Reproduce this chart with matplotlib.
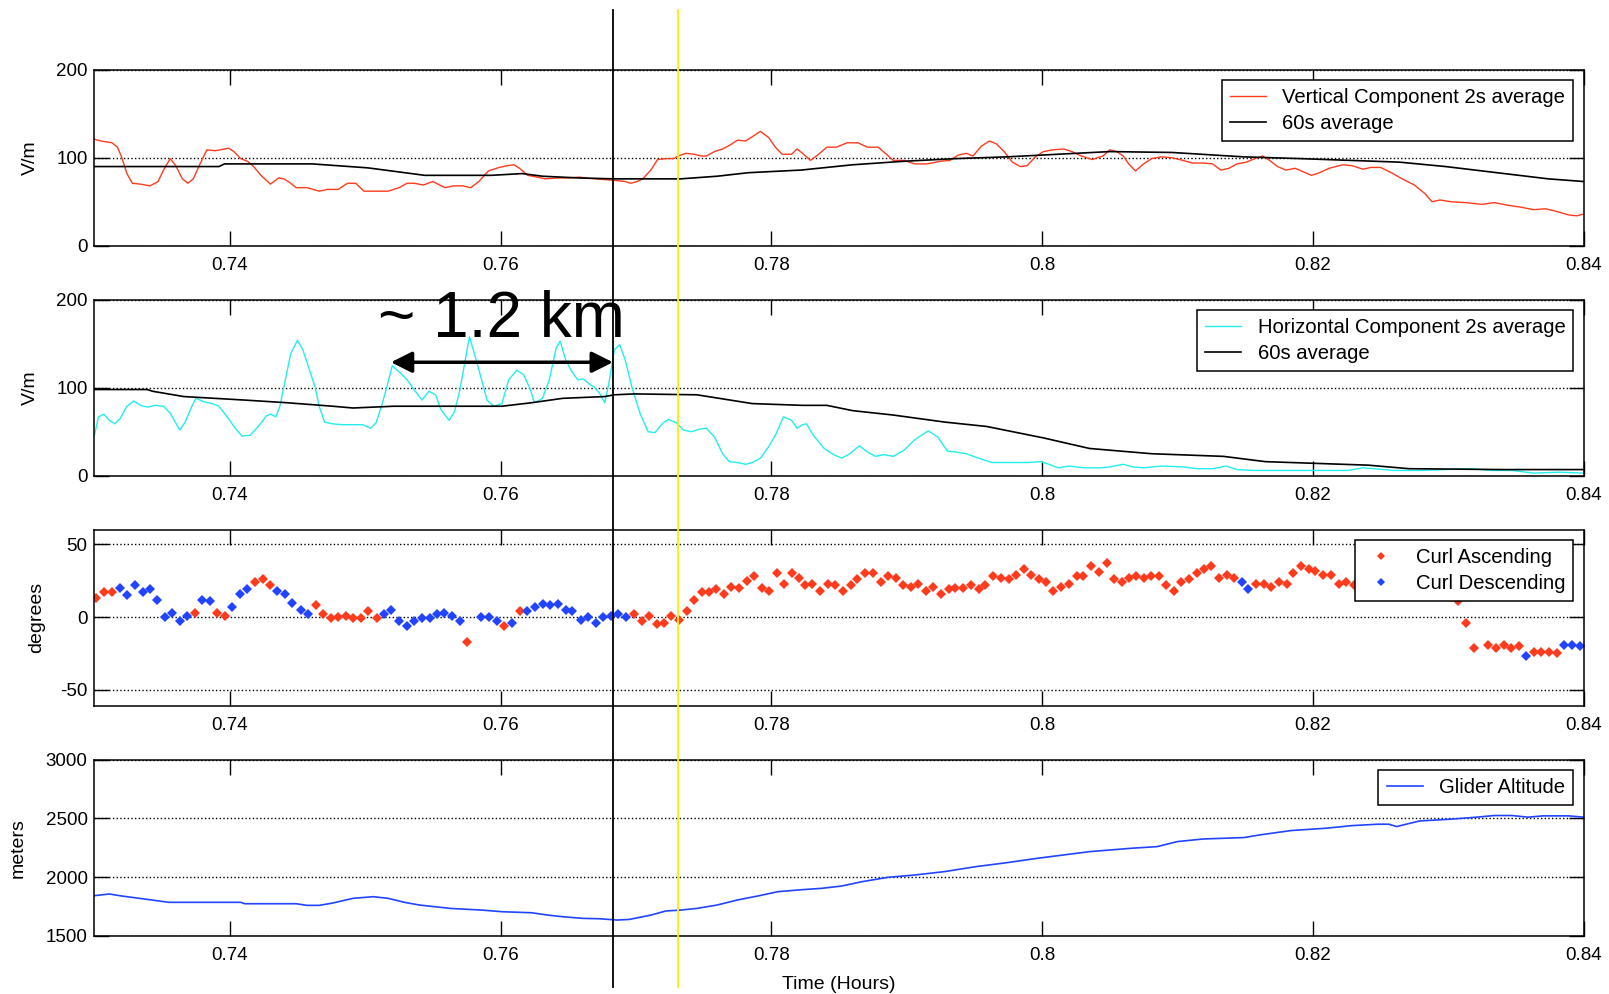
import matplotlib
matplotlib.use('Agg')
import matplotlib.pyplot as plt
from matplotlib.lines import Line2D
from matplotlib.transforms import blended_transform_factory

plt.rcParams['font.family'] = ['Liberation Sans', 'DejaVu Sans']

x_ticks = [0.74, 0.76, 0.78, 0.80, 0.82, 0.84]
x_tick_labels = ['0.74', '0.76', '0.78', '0.8', '0.82', '0.84']

# ---- panel 1: vertical component
vert_t = [0.7300, 0.7305, 0.7313, 0.7317, 0.7320, 0.7324, 0.7328, 0.7334, 0.7341, 0.7347,
          0.7351, 0.7356, 0.7360, 0.7365, 0.7369, 0.7373, 0.7378, 0.7383, 0.7389, 0.7393,
          0.7399, 0.7403, 0.7408, 0.7413, 0.7417, 0.7423, 0.7430, 0.7436, 0.7440, 0.7445,
          0.7449, 0.7457, 0.7466, 0.7472, 0.7480, 0.7487, 0.7493, 0.7499, 0.7510, 0.7517,
          0.7525, 0.7531, 0.7536, 0.7543, 0.7550, 0.7555, 0.7559, 0.7565, 0.7572, 0.7578,
          0.7584, 0.7591, 0.7599, 0.7605, 0.7610, 0.7614, 0.7620, 0.7627, 0.7633, 0.7642,
          0.7650, 0.7658, 0.7663, 0.7671, 0.7678, 0.7686, 0.7692, 0.7696, 0.7701, 0.7705,
          0.7711, 0.7716, 0.7722, 0.7728, 0.7731, 0.7737, 0.7743, 0.7748, 0.7752, 0.7758,
          0.7764, 0.7769, 0.7775, 0.7781, 0.7786, 0.7792, 0.7798, 0.7803, 0.7808, 0.7815,
          0.7819, 0.7823, 0.7826, 0.7829, 0.7835, 0.7841, 0.7848, 0.7856, 0.7864, 0.7871,
          0.7879, 0.7885, 0.7890, 0.7898, 0.7906, 0.7915, 0.7925, 0.7932, 0.7938, 0.7944,
          0.7949, 0.7955, 0.7961, 0.7966, 0.7972, 0.7978, 0.7984, 0.7989, 0.7995, 0.8001,
          0.8008, 0.8016, 0.8022, 0.8029, 0.8037, 0.8045, 0.8050, 0.8055, 0.8060, 0.8064,
          0.8069, 0.8075, 0.8081, 0.8088, 0.8096, 0.8104, 0.8111, 0.8119, 0.8126, 0.8132,
          0.8138, 0.8144, 0.8151, 0.8157, 0.8163, 0.8168, 0.8174, 0.8180, 0.8187, 0.8193,
          0.8199, 0.8205, 0.8212, 0.8222, 0.8229, 0.8237, 0.8243, 0.8250, 0.8258, 0.8266,
          0.8275, 0.8283, 0.8288, 0.8294, 0.8302, 0.8313, 0.8325, 0.8334, 0.8344, 0.8353,
          0.8363, 0.8372, 0.8380, 0.8389, 0.8395, 0.8400]
vert_v = [121, 119, 117, 112, 101, 82, 71, 70, 68, 73,
          86, 99, 91, 76, 71, 76, 93, 109, 108, 109,
          111, 107, 99, 96, 91, 80, 70, 77, 76, 71,
          66, 66, 62, 64, 64, 71, 71, 62, 62, 62,
          66, 71, 71, 69, 73, 69, 66, 68, 68, 66,
          73, 85, 89, 91, 92, 88, 80, 78, 76, 77,
          77, 78, 77, 76, 75, 74, 73, 71, 73, 76,
          86, 98, 99, 99, 102, 105, 104, 102, 102, 107,
          110, 114, 120, 119, 124, 130, 123, 112, 104, 104,
          110, 105, 101, 97, 104, 112, 112, 117, 117, 112,
          112, 104, 97, 97, 93, 93, 96, 97, 103, 105,
          102, 113, 119, 116, 107, 95, 90, 91, 101, 107,
          109, 110, 107, 102, 98, 102, 109, 107, 102, 93,
          85, 93, 99, 101, 100, 97, 94, 94, 93, 86,
          88, 93, 95, 99, 102, 97, 90, 86, 88, 84,
          80, 83, 88, 92, 91, 87, 89, 89, 83, 76,
          69, 59, 50, 52, 50, 49, 47, 49, 46, 44,
          41, 42, 39, 35, 34, 36]
vert_avg_t = [0.7300, 0.7392, 0.7396, 0.7461, 0.7502, 0.7544, 0.7593, 0.7616, 0.7631, 0.7658,
              0.7684, 0.7733, 0.7760, 0.7783, 0.7822, 0.7860, 0.7898, 0.7936, 0.7974, 0.8012,
              0.8050, 0.8096, 0.8149, 0.8191, 0.8264, 0.8298, 0.8336, 0.8374, 0.8400]
vert_avg_v = [90, 90, 93, 93, 88.5, 80, 80, 82, 79, 77,
              76, 76, 79, 83, 86, 92, 96, 99, 101, 104,
              107, 106, 101, 99, 95, 90, 83, 76, 73]

# ---- panel 2: horizontal component
horiz_t = [0.7300, 0.7303, 0.7307, 0.7311, 0.7315, 0.7319, 0.7324, 0.7329, 0.7334, 0.7339,
           0.7345, 0.7351, 0.7356, 0.7360, 0.7363, 0.7367, 0.7372, 0.7375, 0.7381, 0.7387,
           0.7392, 0.7398, 0.7404, 0.7409, 0.7415, 0.7421, 0.7427, 0.7430, 0.7434, 0.7437,
           0.7441, 0.7445, 0.7450, 0.7454, 0.7458, 0.7463, 0.7466, 0.7470, 0.7476, 0.7483,
           0.7491, 0.7498, 0.7504, 0.7508, 0.7512, 0.7516, 0.7520, 0.7525, 0.7531, 0.7536,
           0.7542, 0.7547, 0.7552, 0.7556, 0.7562, 0.7566, 0.7570, 0.7574, 0.7577, 0.7581,
           0.7586, 0.7590, 0.7595, 0.7601, 0.7606, 0.7612, 0.7617, 0.7622, 0.7625, 0.7631,
           0.7636, 0.7641, 0.7644, 0.7648, 0.7652, 0.7657, 0.7661, 0.7665, 0.7669, 0.7673,
           0.7677, 0.7680, 0.7684, 0.7688, 0.7692, 0.7697, 0.7703, 0.7709, 0.7714, 0.7720,
           0.7724, 0.7730, 0.7735, 0.7741, 0.7747, 0.7752, 0.7758, 0.7764, 0.7769, 0.7775,
           0.7781, 0.7786, 0.7792, 0.7798, 0.7803, 0.7809, 0.7815, 0.7819, 0.7823, 0.7826,
           0.7831, 0.7839, 0.7846, 0.7852, 0.7858, 0.7865, 0.7871, 0.7877, 0.7883, 0.7890,
           0.7898, 0.7906, 0.7911, 0.7916, 0.7923, 0.7930, 0.7936, 0.7944, 0.7953, 0.7963,
           0.7974, 0.7989, 0.7999, 0.8005, 0.8012, 0.8020, 0.8031, 0.8043, 0.8050, 0.8060,
           0.8067, 0.8075, 0.8088, 0.8104, 0.8115, 0.8126, 0.8136, 0.8144, 0.8157, 0.8184,
           0.8210, 0.8226, 0.8237, 0.8245, 0.8260, 0.8279, 0.8298, 0.8317, 0.8332, 0.8347,
           0.8363, 0.8382, 0.8400]
horiz_v = [46, 67, 70, 63, 59, 65, 79, 85, 80, 78,
           80, 79, 71, 60, 52, 61, 79, 88, 84, 82,
           79, 67, 54, 45, 46, 56, 68, 70, 67, 79,
           109, 139, 154, 143, 124, 101, 79, 61, 59, 58,
           58, 58, 54, 60, 79, 101, 125, 118, 109, 98,
           86, 96, 92, 75, 63, 73, 98, 132, 158, 137,
           109, 86, 79, 82, 109, 120, 115, 98, 83, 88,
           109, 145, 153, 132, 120, 109, 110, 105, 101, 94,
           83, 105, 143, 149, 132, 101, 71, 50, 49, 60,
           64, 60, 52, 50, 53, 54, 44, 25, 16, 15,
           13, 15, 20, 33, 46, 67, 63, 54, 58, 59,
           46, 31, 24, 20, 25, 34, 27, 22, 24, 22,
           29, 41, 46, 51, 44, 28, 27, 25, 20, 15,
           15, 15, 16, 13, 9, 11, 9, 9, 10, 13,
           10, 9, 11, 10, 8, 8, 11, 7, 6, 6,
           6, 6, 9, 8, 6, 6, 7, 8, 6, 6,
           3, 4, 3]
horiz_avg_t = [0.7300, 0.7339, 0.7343, 0.7366, 0.7411, 0.7442, 0.7476, 0.7491, 0.7521, 0.7563,
               0.7601, 0.7623, 0.7646, 0.7677, 0.7684, 0.7699, 0.7745, 0.7786, 0.7823, 0.7841,
               0.7860, 0.7890, 0.7928, 0.7959, 0.8001, 0.8035, 0.8081, 0.8134, 0.8165, 0.8203,
               0.8241, 0.8271, 0.8340, 0.8400]
horiz_avg_v = [98, 98, 96, 90, 86, 83, 79, 77, 79, 79,
               79, 83, 88, 90, 92, 93, 92, 82, 80, 80,
               74, 69, 61, 56, 43, 31, 25, 22, 16, 14,
               12, 8, 7, 7]

# ---- panel 3: curl
asc_t = [0.73015, 0.73072, 0.73129, 0.73742, 0.73905, 0.73962, 0.74186, 0.74242, 0.74295,
         0.74633, 0.74689, 0.74746, 0.74799, 0.74856, 0.74913, 0.74970, 0.75023, 0.75087,
         0.75750, 0.76027, 0.76140,
         0.76985, 0.77042, 0.77095, 0.77152, 0.77208, 0.77261, 0.77318, 0.77375, 0.77428,
         0.77485, 0.77538, 0.77595, 0.77652, 0.77705, 0.77761, 0.77818, 0.77875, 0.77932,
         0.77985, 0.78042, 0.78095, 0.78152, 0.78208, 0.78248, 0.78301, 0.78362, 0.78415,
         0.78472, 0.78530, 0.78587, 0.78636, 0.78693, 0.78750, 0.78808, 0.78865, 0.78918,
         0.78971, 0.79029, 0.79086, 0.79139, 0.79196, 0.79253, 0.79310, 0.79360, 0.79417,
         0.79474, 0.79531, 0.79581, 0.79638, 0.79695, 0.79752, 0.79810, 0.79863, 0.79920,
         0.79977, 0.80030, 0.80084, 0.80141, 0.80198, 0.80255, 0.80305, 0.80362, 0.80419,
         0.80476, 0.80530, 0.80587, 0.80644, 0.80697, 0.80754, 0.80808, 0.80861, 0.80918,
         0.80975, 0.81029, 0.81086, 0.81143, 0.81196, 0.81250, 0.81307, 0.81364, 0.81417,
         0.81581, 0.81638, 0.81691, 0.81749, 0.81806, 0.81855, 0.81912, 0.81970, 0.82019,
         0.82076, 0.82133, 0.82190, 0.82248, 0.82301, 0.82358, 0.82415, 0.82469, 0.82526,
         0.82583, 0.82636, 0.82693, 0.82750, 0.82804, 0.82861, 0.82918, 0.82971, 0.83024,
         0.83074, 0.83131, 0.83189, 0.83295, 0.83352, 0.83410, 0.83467, 0.83524, 0.83634,
         0.83688, 0.83745, 0.83802]
asc_v = [13, 17, 17, 3, 3, 1, 24, 26, 22,
         8, 2, -1, 0, 1, -1, -1, 4, -1,
         -17, -6, 4,
         2, -3, 1, -5, -4, 1, -2, 4, 12,
         17, 17, 19, 16, 21, 20, 25, 28, 20,
         18, 30, 23, 30, 27, 22, 23, 18, 23,
         22, 18, 22, 26, 30, 30, 24, 28, 27,
         22, 21, 23, 18, 21, 16, 19, 20, 20,
         22, 19, 22, 28, 27, 26, 29, 33, 29,
         26, 24, 18, 21, 23, 28, 28, 35, 31,
         37, 26, 24, 27, 28, 27, 28, 28, 22,
         18, 24, 26, 30, 33, 35, 27, 29, 27,
         23, 23, 21, 24, 23, 30, 35, 33, 32,
         29, 29, 23, 24, 22, 25, 23, 21, 24,
         22, 20, 23, 21, 19, 22, 20, 17, 14,
         11, -4, -21, -19, -21, -19, -21, -20, -24,
         -24, -24, -25]
desc_t = [0.73186, 0.73242, 0.73299, 0.73356, 0.73413, 0.73462, 0.73519, 0.73576, 0.73629,
          0.73686, 0.73795, 0.73852, 0.74019, 0.74076, 0.74129, 0.74352, 0.74409, 0.74462,
          0.74523, 0.74580, 0.75140, 0.75193, 0.75250, 0.75307, 0.75364, 0.75420, 0.75477,
          0.75527, 0.75583, 0.75644, 0.75697, 0.75856, 0.75917, 0.75973, 0.76083, 0.76197,
          0.76254, 0.76311, 0.76367, 0.76424, 0.76481, 0.76530, 0.76591, 0.76648, 0.76705,
          0.76758, 0.76814, 0.76871, 0.76924, 0.81474, 0.81524, 0.83577, 0.83859, 0.83912,
          0.83970]
desc_v = [20, 15, 22, 17, 19, 12, 0, 3, -3,
          1, 12, 11, 7, 16, 19, 18, 16, 10,
          5, 2, 2, 5, -3, -6, -3, -1, -0.5,
          2, 3, 1, -3, 0, 0, -3, -4, 4,
          7, 9, 8, 9, 5, 4, -2, 0, -4,
          0, 1, 2, 0, 24, 19, -27, -19, -19,
          -20]

# ---- panel 4: altitude
alt_t = [0.7300, 0.7311, 0.7320, 0.7339, 0.7355, 0.7381, 0.7408, 0.7411, 0.7449, 0.7457,
         0.7466, 0.7476, 0.7491, 0.7506, 0.7517, 0.7529, 0.7540, 0.7563, 0.7586, 0.7601,
         0.7623, 0.7635, 0.7646, 0.7661, 0.7673, 0.7686, 0.7695, 0.7711, 0.7722, 0.7733,
         0.7745, 0.7760, 0.7775, 0.7790, 0.7805, 0.7823, 0.7837, 0.7852, 0.7867, 0.7886,
         0.7906, 0.7928, 0.7951, 0.7974, 0.7997, 0.8016, 0.8035, 0.8066, 0.8085, 0.8100,
         0.8119, 0.8134, 0.8149, 0.8161, 0.8184, 0.8210, 0.8229, 0.8248, 0.8256, 0.8262,
         0.8269, 0.8279, 0.8302, 0.8321, 0.8334, 0.8347, 0.8359, 0.8370, 0.8389, 0.8400]
alt_v = [1842, 1856, 1839, 1810, 1785, 1785, 1785, 1773, 1773, 1759,
         1759, 1779, 1819, 1833, 1819, 1785, 1762, 1733, 1719, 1705,
         1696, 1676, 1662, 1648, 1645, 1634, 1639, 1676, 1711, 1719,
         1733, 1762, 1805, 1839, 1876, 1893, 1904, 1924, 1961, 1998,
         2018, 2047, 2089, 2123, 2161, 2189, 2217, 2246, 2260, 2303,
         2325, 2331, 2337, 2360, 2397, 2417, 2439, 2451, 2451, 2431,
         2451, 2479, 2494, 2511, 2525, 2525, 2511, 2522, 2522, 2511]

# markers
black_mark_t = 0.76834
yellow_mark_t = 0.77307
arrow_t = [0.7519, 0.7683]
arrow_v = 129
label_t, label_v = 0.7601, 158

red = '#ff3b1e'
cyan = '#22eeee'
blue = '#2244ff'


def style(ax, yticks, ylim, ylabel, label_x):
    ax.set_xlim(0.73, 0.84)
    ax.set_ylim(*ylim)
    ax.set_xticks(x_ticks)
    ax.set_xticklabels(x_tick_labels)
    ax.set_yticks(yticks)
    ax.set_yticklabels([str(v) for v in yticks])
    ax.tick_params(direction='in', length=11, width=1, top=True, right=True, labelsize=13.5)
    ax.tick_params(axis='x', pad=8)
    ax.tick_params(axis='y', pad=5)
    ax.yaxis.grid(True, linestyle=':', color='k', linewidth=1)
    for s in ax.spines.values():
        s.set_linewidth(1.1)
    ax.set_ylabel(ylabel, fontsize=14, va='center')
    ax.yaxis.set_label_coords(label_x, 0.5)


def legend(ax, **kw):
    leg = ax.legend(loc='upper right', fontsize=14.6, frameon=True, fancybox=False,
                    edgecolor='k', framealpha=1, borderaxespad=0.5, handlelength=1.8,
                    labelspacing=0.35, **kw)
    leg.get_frame().set_linewidth(1.1)


fig = plt.figure(figsize=(16.09, 9.94), dpi=100)
left, width, height = 0.0587, 0.9255, 0.177
ax1 = fig.add_axes([left, 0.7528, width, height])
ax2 = fig.add_axes([left, 0.5214, width, height])
ax3 = fig.add_axes([left, 0.2900, width, height])
ax4 = fig.add_axes([left, 0.0586, width, height])

ax1.plot(vert_t, vert_v, color=red, lw=1.0, label='Vertical Component 2s average')
ax1.plot(vert_avg_t, vert_avg_v, color='k', lw=1.2, label='60s average')
style(ax1, [0, 100, 200], (0, 200), 'V/m', -0.043)
legend(ax1)

ax2.plot(horiz_t, horiz_v, color=cyan, lw=1.0, label='Horizontal Component 2s average')
ax2.plot(horiz_avg_t, horiz_avg_v, color='k', lw=1.2, label='60s average')
style(ax2, [0, 100, 200], (0, 200), 'V/m', -0.043)
legend(ax2)
ax2.annotate('', xy=(arrow_t[1], arrow_v), xytext=(arrow_t[0], arrow_v),
             arrowprops=dict(arrowstyle='<|-|>', color='k', lw=2.5, mutation_scale=32,
                             shrinkA=0, shrinkB=0), annotation_clip=False)
ax2.text(label_t, label_v, '~ 1.2 km', fontsize=46, ha='center', va='baseline', clip_on=False)

ax3.plot(asc_t, asc_v, linestyle='none', marker='D', markersize=5.2, color=red,
         markeredgewidth=0, label='Curl Ascending')
ax3.plot(desc_t, desc_v, linestyle='none', marker='D', markersize=5.2, color=blue,
         markeredgewidth=0, label='Curl Descending')
style(ax3, [-50, 0, 50], (-61, 60), 'degrees', -0.039)
legend(ax3, numpoints=1, markerscale=0.7)

ax4.plot(alt_t, alt_v, color=blue, lw=1.2, label='Glider Altitude')
style(ax4, [1500, 2000, 2500, 3000], (1500, 3000), 'meters', -0.051)
legend(ax4)
ax4.set_xlabel('Time (Hours)', fontsize=14, va='center')
ax4.xaxis.set_label_coords(0.5, -0.278)

trans = blended_transform_factory(ax1.transData, fig.transFigure)
fig.add_artist(Line2D([black_mark_t, black_mark_t], [0.007, 0.9897], transform=trans,
                      color='k', lw=1.3))
fig.add_artist(Line2D([yellow_mark_t, yellow_mark_t], [0.007, 0.9897], transform=trans,
                      color='#ffee00', lw=1.3))

fig.savefig('out.png', dpi=100)
